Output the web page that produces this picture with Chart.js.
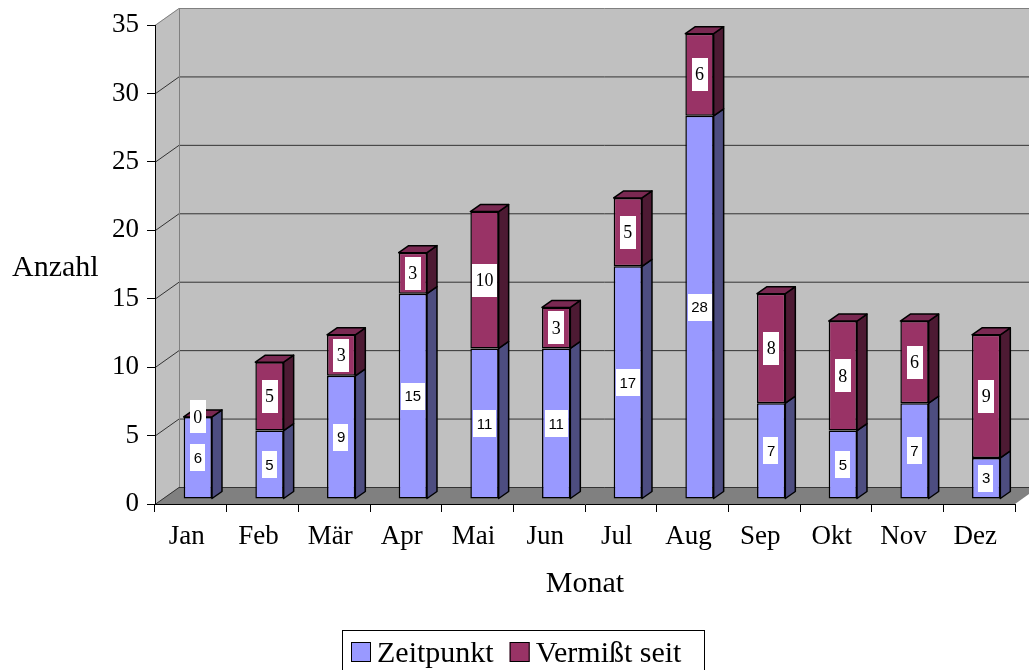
<!DOCTYPE html>
<html lang="de">
<head>
<meta charset="utf-8">
<title>Anzahl pro Monat</title>
<script src="https://cdn.jsdelivr.net/npm/chart.js@4.4.1/dist/chart.umd.min.js"></script>
<style>
  html, body { margin: 0; padding: 0; background: #fff; }
  #wrap { width: 1029px; height: 670px; position: relative; }
</style>
</head>
<body>
<div id="wrap"><canvas id="myChart"></canvas></div>
<script>
// Daten
const monate = ['Jan', 'Feb', 'Mär', 'Apr', 'Mai', 'Jun', 'Jul', 'Aug', 'Sep', 'Okt', 'Nov', 'Dez'];
const zeitpunkt = [6, 5, 9, 15, 11, 11, 17, 28, 7, 5, 7, 3];
const vermisst = [0, 5, 3, 3, 10, 3, 5, 6, 8, 8, 6, 9];
const yMax = 35;
const yStep = 5;
const achseY = 'Anzahl';
const achseX = 'Monat';

const SERIF = "'Liberation Serif', 'Times New Roman', serif";
const SANS = "'Liberation Sans', Arial, sans-serif";

// 3D-Tiefe der Wand und der Säulen
const TIEFE_X = 24, TIEFE_Y = 17;
const VORNE_X = 7, VORNE_Y = 5;
const SAEULE_X = 10, SAEULE_Y = 7;

const farben = [
    { front: '#9999FF', seite: '#4D4D80', oben: '#7A7ACC', schrift: SANS, groesse: 15, boxH: 27 },
    { front: '#993366', seite: '#4D1A33', oben: '#7A2952', schrift: SERIF, groesse: 18, boxH: 33 }
];

function poly(ctx, pts, fill, stroke, lw) {
    ctx.beginPath();
    ctx.moveTo(pts[0][0], pts[0][1]);
    for (let i = 1; i < pts.length; i++) ctx.lineTo(pts[i][0], pts[i][1]);
    ctx.closePath();
    if (fill) { ctx.fillStyle = fill; ctx.fill(); }
    if (stroke) { ctx.strokeStyle = stroke; ctx.lineWidth = lw || 1; ctx.stroke(); }
}

const raum3d = {
    id: 'raum3d',
    beforeDraw(chart) {
        const ctx = chart.ctx;
        const a = chart.chartArea;
        const ys = chart.scales.y;
        const L = a.left, R = a.right, T = a.top, B = a.bottom;
        ctx.save();
        // Rückwand, linke Wand, Boden
        poly(ctx, [[L + TIEFE_X, T - TIEFE_Y], [R + TIEFE_X, T - TIEFE_Y], [R + TIEFE_X, B - TIEFE_Y], [L + TIEFE_X, B - TIEFE_Y]], '#C0C0C0');
        poly(ctx, [[L, B], [L, T], [L + TIEFE_X, T - TIEFE_Y], [L + TIEFE_X, B - TIEFE_Y]], '#C0C0C0');
        poly(ctx, [[L, B], [R, B], [R + TIEFE_X, B - TIEFE_Y], [L + TIEFE_X, B - TIEFE_Y]], '#808080');
        // Gitterlinien
        ys.ticks.forEach(t => {
            const y = ys.getPixelForValue(t.value);
            ctx.strokeStyle = t.value === yMax ? '#808080' : '#333333';
            ctx.lineWidth = 1;
            ctx.beginPath();
            ctx.moveTo(L, y + 0.5);
            ctx.lineTo(L + TIEFE_X, y - TIEFE_Y + 0.5);
            ctx.lineTo(R + TIEFE_X, y - TIEFE_Y + 0.5);
            ctx.stroke();
        });
        ctx.strokeStyle = '#808080';
        ctx.beginPath();
        ctx.moveTo(L + TIEFE_X + 0.5, T - TIEFE_Y);
        ctx.lineTo(L + TIEFE_X + 0.5, B - TIEFE_Y);
        ctx.stroke();
        ctx.restore();
    },
    beforeDatasetsDraw(chart) {
        chart.ctx.save();
        chart.ctx.translate(VORNE_X, -VORNE_Y);
    },
    afterDatasetsDraw(chart) {
        const ctx = chart.ctx;
        ctx.restore();
        ctx.save();
        ctx.lineJoin = 'round';
        const letzte = chart.data.datasets.length - 1;
        chart.data.datasets.forEach((ds, i) => {
            const meta = chart.getDatasetMeta(i);
            meta.data.forEach(el => {
                const { x, y, base, width } = el.getProps(['x', 'y', 'base', 'width'], true);
                const xl = x - width / 2 + VORNE_X, xr = x + width / 2 + VORNE_X;
                const yt = y - VORNE_Y, yb = base - VORNE_Y;
                if (yb - yt > 0.5) {
                    poly(ctx, [[xr, yt], [xr + SAEULE_X, yt - SAEULE_Y], [xr + SAEULE_X, yb - SAEULE_Y], [xr, yb]], farben[i].seite, '#000', 1.5);
                }
                if (i === letzte) {
                    poly(ctx, [[xl, yt], [xl + SAEULE_X, yt - SAEULE_Y], [xr + SAEULE_X, yt - SAEULE_Y], [xr, yt]], farben[i].oben, '#000', 1.5);
                }
            });
        });
        // Datenbeschriftungen
        chart.data.datasets.forEach((ds, i) => {
            const meta = chart.getDatasetMeta(i);
            const f = farben[i];
            ctx.font = f.groesse + 'px ' + f.schrift;
            ctx.textAlign = 'center';
            ctx.textBaseline = 'middle';
            meta.data.forEach((el, j) => {
                const { x, y, base } = el.getProps(['x', 'y', 'base'], true);
                const txt = String(ds.data[j]);
                const cx = x + VORNE_X, cy = (y + base) / 2 - VORNE_Y;
                const w = ctx.measureText(txt).width + 7;
                ctx.fillStyle = '#FFFFFF';
                ctx.fillRect(Math.round(cx - w / 2), Math.round(cy - f.boxH / 2), Math.round(w), f.boxH);
                ctx.fillStyle = '#000';
                ctx.fillText(txt, cx, cy + 1);
            });
        });
        ctx.restore();
    },
    afterDraw(chart) {
        const ctx = chart.ctx;
        const a = chart.chartArea;
        ctx.save();
        ctx.fillStyle = '#000';
        ctx.font = '30px ' + SERIF;
        ctx.textBaseline = 'alphabetic';
        ctx.textAlign = 'left';
        ctx.fillText(achseY, 12, 276);
        ctx.textAlign = 'center';
        ctx.fillText(achseX, (a.left + a.right) / 2, 592);
        // Legende
        ctx.textAlign = 'left';
        let x = 351;
        ctx.strokeStyle = '#000';
        ctx.lineWidth = 1;
        ctx.strokeRect(342.5, 630.5, 362, 60);
        chart.data.datasets.forEach((ds, i) => {
            ctx.fillStyle = farben[i].front;
            ctx.fillRect(x, 642, 20, 20);
            ctx.strokeRect(x + 0.5, 642.5, 19, 19);
            ctx.fillStyle = '#000';
            ctx.fillText(ds.label, x + 26, 662);
            x += 26 + ctx.measureText(ds.label).width + 16;
        });
        ctx.restore();
    }
};

const ctx = document.getElementById('myChart');
new Chart(ctx, {
    type: 'bar',
    data: {
        labels: monate,
        datasets: [
            { label: 'Zeitpunkt', data: zeitpunkt, backgroundColor: farben[0].front },
            { label: 'Vermißt seit', data: vermisst, backgroundColor: farben[1].front }
        ]
    },
    options: {
        responsive: true,
        maintainAspectRatio: false,
        animation: false,
        devicePixelRatio: 1,
        layout: { padding: { left: 0, top: 25, right: 14, bottom: 0 } },
        datasets: {
            bar: {
                categoryPercentage: 1,
                barPercentage: 0.395,
                borderColor: '#000',
                borderWidth: 1.5,
                borderSkipped: false
            }
        },
        plugins: {
            legend: { display: false },
            tooltip: { enabled: false }
        },
        scales: {
            x: {
                stacked: true,
                grid: { drawOnChartArea: false, color: '#000', tickLength: 8 },
                border: { color: '#000', width: 1 },
                ticks: { color: '#000', font: { family: SERIF, size: 27 }, padding: 9, labelOffset: -4, maxRotation: 0, autoSkip: false },
                afterFit(scale) { scale.height = 166; }
            },
            y: {
                stacked: true,
                min: 0,
                max: yMax,
                grid: { drawOnChartArea: false, color: '#000', tickLength: 8 },
                border: { color: '#000', width: 1 },
                ticks: { stepSize: yStep, color: '#000', font: { family: SERIF, size: 27 }, padding: 8 },
                afterFit(scale) { scale.width = 155; }
            }
        }
    },
    plugins: [raum3d]
});
</script>
</body>
</html>
